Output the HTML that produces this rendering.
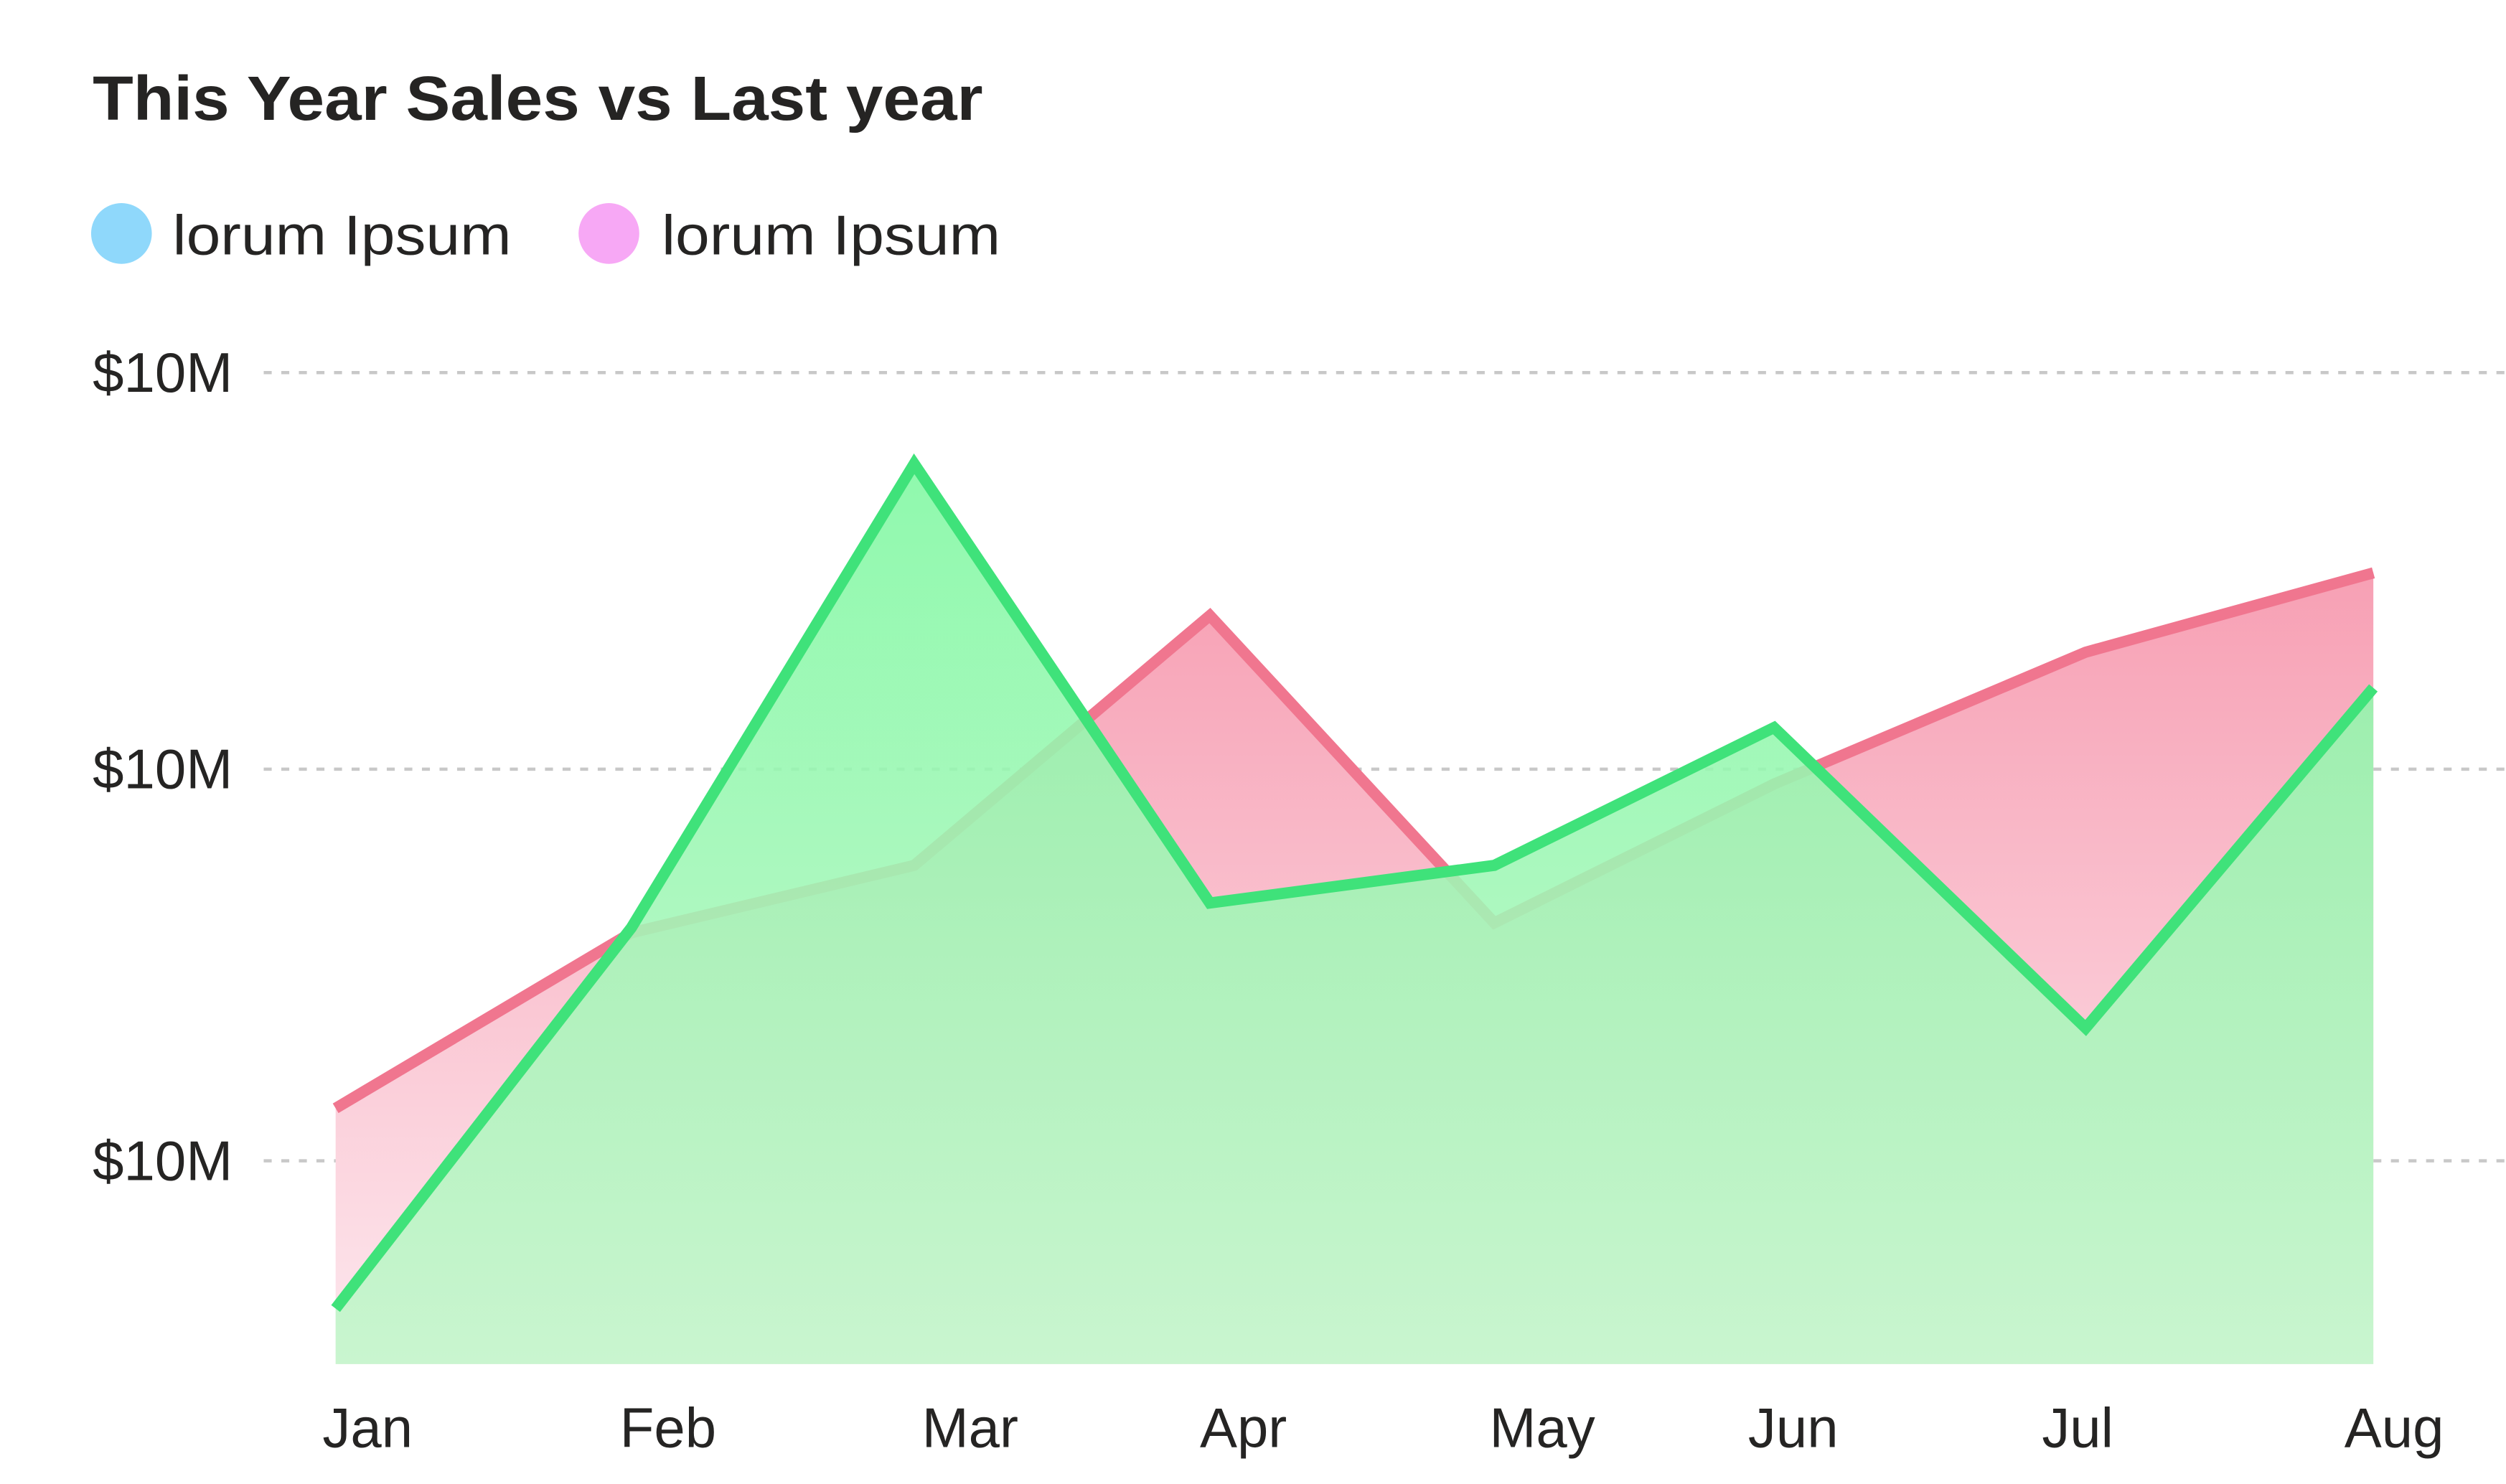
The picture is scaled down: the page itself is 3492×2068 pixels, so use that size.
<!DOCTYPE html>
<html><head><meta charset="utf-8"><style>
html,body{margin:0;padding:0;background:#fff;}
svg{display:block;}
text{font-family:"Liberation Sans","DejaVu Sans",sans-serif;fill:#252423;}
</style></head><body>
<svg width="3492" height="2068" viewBox="0 0 1568 928" preserveAspectRatio="none" xmlns="http://www.w3.org/2000/svg">
<defs>
<linearGradient id="gp" x1="0" y1="0" x2="0" y2="1"><stop offset="0" stop-color="#f7a0b4"/><stop offset="1" stop-color="#fde8ee"/></linearGradient>
<linearGradient id="gg" x1="0" y1="0" x2="0" y2="1"><stop offset="0" stop-color="#80f8a2"/><stop offset="1" stop-color="#c2f7cb"/></linearGradient>
</defs>
<text x="58" y="75" font-size="39" font-weight="bold" textLength="557" lengthAdjust="spacingAndGlyphs">This Year Sales vs Last year</text>
<g>
<circle cx="76" cy="146" r="19" fill="#8fd8fb"/>
<text x="108" y="159" font-size="35" textLength="212" lengthAdjust="spacingAndGlyphs">lorum Ipsum</text>
<circle cx="381" cy="146" r="19" fill="#f7a8f5"/>
<text x="414" y="159" font-size="35" textLength="212" lengthAdjust="spacingAndGlyphs">lorum Ipsum</text>
</g>
<g id="grid"></g>
<g id="plot"></g>
<g id="xlabels"></g>
</svg>
<script>
const categories=["Jan","Feb","Mar","Apr","May","Jun","Jul","Aug"];
const lastYear=[25.8,43.5,50.3,75.5,44.5,58.5,71.8,79.8];
const thisYear=[5.6,44,90.8,46.5,50.3,64.2,33.9,68.2];
const tickValues=[20.5,60,100];
const tickLabels=["$10M","$10M","$10M"];
const xPos=[210,395,572,757,935,1110,1305,1485];
const xLabelPos=[230,418,607,778,965,1122,1300,1498];
const NS="http://www.w3.org/2000/svg";
const plotBottom=853, plotTop=233;
function yScale(v){return plotBottom-(v/100)*(plotBottom-plotTop);}
function xScale(i){return xPos[i];}
function mk(t,a,p){const e=document.createElementNS(NS,t);for(const k in a)e.setAttribute(k,a[k]);p.appendChild(e);return e;}
const grid=document.getElementById('grid'),plot=document.getElementById('plot'),xl=document.getElementById('xlabels');
tickValues.forEach((v,i)=>{
 const l=mk('line',{x1:165,x2:1568,y1:yScale(v),y2:yScale(v),stroke:'#c8c8c8','stroke-width':2,'stroke-dasharray':'5,6'},grid);
 
 
 const t=mk('text',{x:58,y:yScale(v)+12,'font-size':35},grid);
 
 
 t.textContent=tickLabels[i];
});
function series(vals,fill,stroke,op,name){
 const pts=vals.map((v,i)=>xScale(i)+','+yScale(v)).join(' ');
 const a=mk('polygon',{points:xScale(0)+','+plotBottom+' '+pts+' '+xScale(vals.length-1)+','+plotBottom,fill:fill,'fill-opacity':op},plot);
 
 
 const l=mk('polyline',{points:pts,fill:'none',stroke:stroke,'stroke-width':7,'stroke-linejoin':'miter'},plot);
 
 
}
series(lastYear,'url(#gp)','#f0768f',1,'last-year');
series(thisYear,'url(#gg)','#3fe27a',0.88,'this-year');
categories.forEach((c,i)=>{
 const t=mk('text',{x:xLabelPos[i],y:905,'font-size':35,'text-anchor':'middle'},xl);
 
 
 t.textContent=c;
});
</script>
</body></html>
